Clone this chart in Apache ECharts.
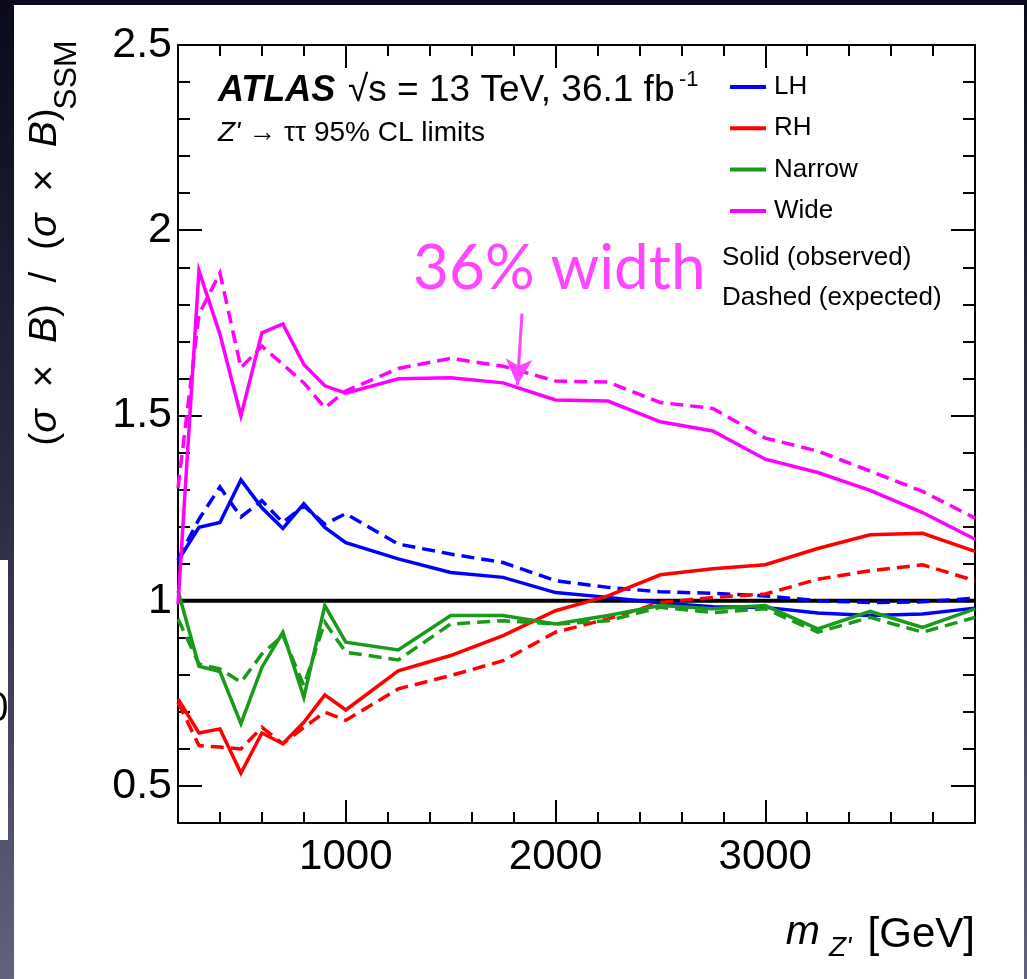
<!DOCTYPE html>
<html><head><meta charset="utf-8">
<script src="https://cdn.jsdelivr.net/npm/echarts@6/dist/echarts.min.js"></script>
<style>html,body{margin:0;padding:0;background:#fff;}#c{width:1027px;height:979px;}</style>
</head><body><div id="c"></div>
<script>
// ---- data ----
const masses = [200,300,400,500,600,700,800,900,1000,1250,1500,1750,2000,2250,2500,2750,3000,3250,3500,3750,4000];
const lhObs  = [1.108,1.198,1.211,1.326,1.251,1.195,1.262,1.198,1.157,1.113,1.076,1.063,1.022,1.009,0.994,0.984,0.982,0.967,0.960,0.964,0.980];
const lhExp  = [1.112,1.220,1.307,1.226,1.270,1.211,1.256,1.207,1.235,1.153,1.126,1.103,1.054,1.036,1.024,1.020,1.013,1.000,0.995,0.997,1.007];
const rhObs  = [0.735,0.643,0.654,0.535,0.643,0.614,0.672,0.746,0.705,0.811,0.852,0.906,0.973,1.013,1.070,1.086,1.097,1.141,1.178,1.182,1.133];
const rhExp  = [0.726,0.609,0.605,0.600,0.658,0.614,0.658,0.699,0.677,0.762,0.798,0.838,0.915,0.951,0.995,1.009,1.018,1.058,1.081,1.097,1.054];
const nwObs  = [1.027,0.823,0.809,0.668,0.820,0.915,0.739,0.987,0.888,0.867,0.960,0.960,0.937,0.960,0.987,0.978,0.987,0.924,0.971,0.928,0.978];
const nwExp  = [0.951,0.829,0.816,0.780,0.856,0.906,0.771,0.942,0.861,0.840,0.937,0.946,0.937,0.946,0.982,0.968,0.978,0.915,0.955,0.915,0.955];
const wdObs  = [0.990,1.891,1.719,1.499,1.723,1.747,1.638,1.580,1.560,1.599,1.602,1.588,1.542,1.539,1.483,1.458,1.382,1.346,1.298,1.238,1.166];
const wdExp  = [1.305,1.773,1.885,1.629,1.687,1.638,1.588,1.521,1.566,1.627,1.654,1.633,1.593,1.590,1.535,1.519,1.439,1.404,1.350,1.295,1.223];
const refX = [200, 4000];
const refY = [1, 1];
const xMajor = [1000, 2000, 3000];
const xMinor = [400,600,800,1200,1400,1600,1800,2200,2400,2600,2800,3200,3400,3600,3800];
const yMajor = [0.5, 1, 1.5, 2, 2.5];
const yMinor = [0.4,0.6,0.7,0.8,0.9,1.1,1.2,1.3,1.4,1.6,1.7,1.8,1.9,2.1,2.2,2.3,2.4];
const legendNames = ['LH','RH','Narrow','Wide'];
const arrowFrom = [1840, 1.775];
const arrowTo = [1818, 1.582];

const FONT = "'Liberation Sans', Arial, Helvetica, sans-serif";
const COL = {LH:'#0000ff', RH:'#ff0000', Narrow:'#1a9a1a', Wide:'#ff00ff'};

function mk(name, ys, color, dashed) {
  return {
    name: name, type: 'line', xAxisIndex: 0, yAxisIndex: 0,
    data: masses.map((m, i) => [m, ys[i]]),
    symbol: 'none', showSymbol: false, animation: false,
    lineStyle: {color: color, width: 3.5, type: dashed ? [13, 7] : 'solid', cap: 'butt', join: 'miter'},
    itemStyle: {color: color}, z: 3
  };
}

function xAx(pos, vals, len, main) {
  return {
    type: 'value', min: 200, max: 4000, position: pos, gridIndex: 0,
    axisLine: {show: main, onZero: false, lineStyle: {color: '#000', width: 2}},
    axisTick: {show: true, inside: true, length: len, customValues: vals, lineStyle: {color: '#000', width: 2}},
    axisLabel: {show: main && pos === 'bottom', customValues: xMajor, fontSize: 42, color: '#000', fontFamily: FONT, margin: 13,
      formatter: v => String(v)},
    splitLine: {show: false}, minorTick: {show: false}
  };
}
function yAx(pos, vals, len, main) {
  return {
    type: 'value', min: 0.4, max: 2.5, position: pos, gridIndex: 0,
    axisLine: {show: main, onZero: false, lineStyle: {color: '#000', width: 2}},
    axisTick: {show: true, inside: true, length: len, customValues: vals, lineStyle: {color: '#000', width: 2}},
    axisLabel: {show: main && pos === 'left', customValues: yMajor, fontSize: 43, color: '#000', fontFamily: FONT, margin: 6,
      padding: [4, 0, 0, 0], formatter: v => String(Math.round(v * 10) / 10)},
    splitLine: {show: false}, minorTick: {show: false}
  };
}

const chart = echarts.init(document.getElementById('c'), null, {renderer: 'canvas'});
const series = [
  {name: 'ref', type: 'line', data: refX.map((x, i) => [x, refY[i]]), symbol: 'none', animation: false,
   lineStyle: {color: '#000', width: 4}, itemStyle: {color: '#000'}, z: 2,
   markLine: {silent: true, animation: false, symbol: ['none', 'arrow'], symbolSize: [20, 26],
     lineStyle: {color: '#ff45ff', width: 3, type: 'solid'}, label: {show: false},
     data: [[{coord: arrowFrom}, {coord: arrowTo}]]}},
  mk('LH', lhObs, COL.LH, false), mk('LH exp', lhExp, COL.LH, true),
  mk('RH', rhObs, COL.RH, false), mk('RH exp', rhExp, COL.RH, true),
  mk('Narrow', nwObs, COL.Narrow, false), mk('Narrow exp', nwExp, COL.Narrow, true),
  mk('Wide', wdObs, COL.Wide, false), mk('Wide exp', wdExp, COL.Wide, true)
];

const T = (x, y, text, font, extra) => Object.assign({type: 'text', silent: true,
  style: Object.assign({x: x, y: y, text: text, font: font, fill: '#000', verticalAlign: 'middle'}, extra || {})});

const option = {
  backgroundColor: '#ffffff',
  animation: false,
  grid: {left: 178, top: 45, right: 52, bottom: 156, show: false},
  xAxis: [xAx('bottom', xMajor, 23, true), xAx('bottom', xMinor, 11, false), xAx('top', xMajor, 23, true), xAx('top', xMinor, 11, false)],
  yAxis: [yAx('left', yMajor, 24, true), yAx('left', yMinor, 12, false), yAx('right', yMajor, 24, true), yAx('right', yMinor, 12, false)],
  legend: {data: legendNames, orient: 'vertical', left: 730, top: 74, padding: 0, itemWidth: 36, itemHeight: 4, icon: 'rect',
    itemGap: 15.3, selectedMode: false, textStyle: {fontSize: 26, color: '#000', fontFamily: FONT, padding: [0, 0, 0, 3]}},
  series: series,
  graphic: [
    {type: 'rect', silent: true, z: -10, shape: {x: 0, y: 0, width: 14, height: 979},
     style: {fill: new echarts.graphic.LinearGradient(0, 0, 0, 1, [{offset: 0, color: '#0a0a1c'}, {offset: 0.5, color: '#2a2a44'}, {offset: 1, color: '#63627e'}])}},
    {type: 'rect', silent: true, z: -10, shape: {x: 0, y: 0, width: 1027, height: 5}, style: {fill: '#0a0a1c'}},
    {type: 'rect', silent: true, z: -10, shape: {x: 1024, y: 0, width: 3, height: 979},
     style: {fill: new echarts.graphic.LinearGradient(0, 0, 0, 1, [{offset: 0, color: '#0a0a1c'}, {offset: 1, color: '#63627e'}])}},
    {type: 'rect', silent: true, z: -9, shape: {x: 0, y: 560, width: 8, height: 280}, style: {fill: '#ffffff'}},
    T(-14, 710, '0', "40px 'Open Sans'", {z: -8}),
    // y axis title
    {type: 'group', x: 45, y: 277, rotation: Math.PI / 2, children: [
      {type: 'text', style: {x: 0, y: 0, align: 'center', verticalAlign: 'middle', fill: '#000',
        text: '{p|(}{i|σ}{p|  ×  }{i|B}{p|)  /  (}{i|σ}{p|  ×  }{i|B}{p|)}',
        rich: {p: {fontSize: 39, fontFamily: FONT}, i: {fontSize: 39, fontFamily: FONT, fontStyle: 'italic'}}}}
    ]},
    {type: 'group', x: 67, y: 75, rotation: Math.PI / 2, children: [
      {type: 'text', style: {x: 0, y: 0, align: 'center', verticalAlign: 'middle', fill: '#000', text: 'SSM', font: "32px 'Liberation Sans'"}}
    ]},
    // x axis title
    T(820, 933, 'm', "italic 41px 'Liberation Sans'", {align: 'right'}),
    T(829, 948, "Z'", "italic 28px 'Liberation Sans'", {align: 'left'}),
    T(975, 935, '[GeV]', "42px 'Liberation Sans'", {align: 'right'}),
    // ATLAS label
    T(218, 91, 'ATLAS', "italic bold 36px 'Liberation Sans'"),
    T(348, 91, '√s = 13 TeV, 36.1 fb', "37px 'Liberation Sans'"),
    T(679, 80, '-1', "22px 'Liberation Sans'"),
    T(218, 133, "{i|Z'} → ττ 95% CL limits", "28px 'Liberation Sans'", {rich: {i: {fontStyle: 'italic', fontSize: 28, fontFamily: FONT}}}),
    // annotations
    T(413, 269, '36% width', "62px Lato", {fill: '#ff45ff'}),
    T(722, 258, 'Solid (observed)', "26px 'Liberation Sans'"),
    T(722, 298, 'Dashed (expected)', "26px 'Liberation Sans'")
  ]
};
chart.setOption(option);
</script></body></html>
